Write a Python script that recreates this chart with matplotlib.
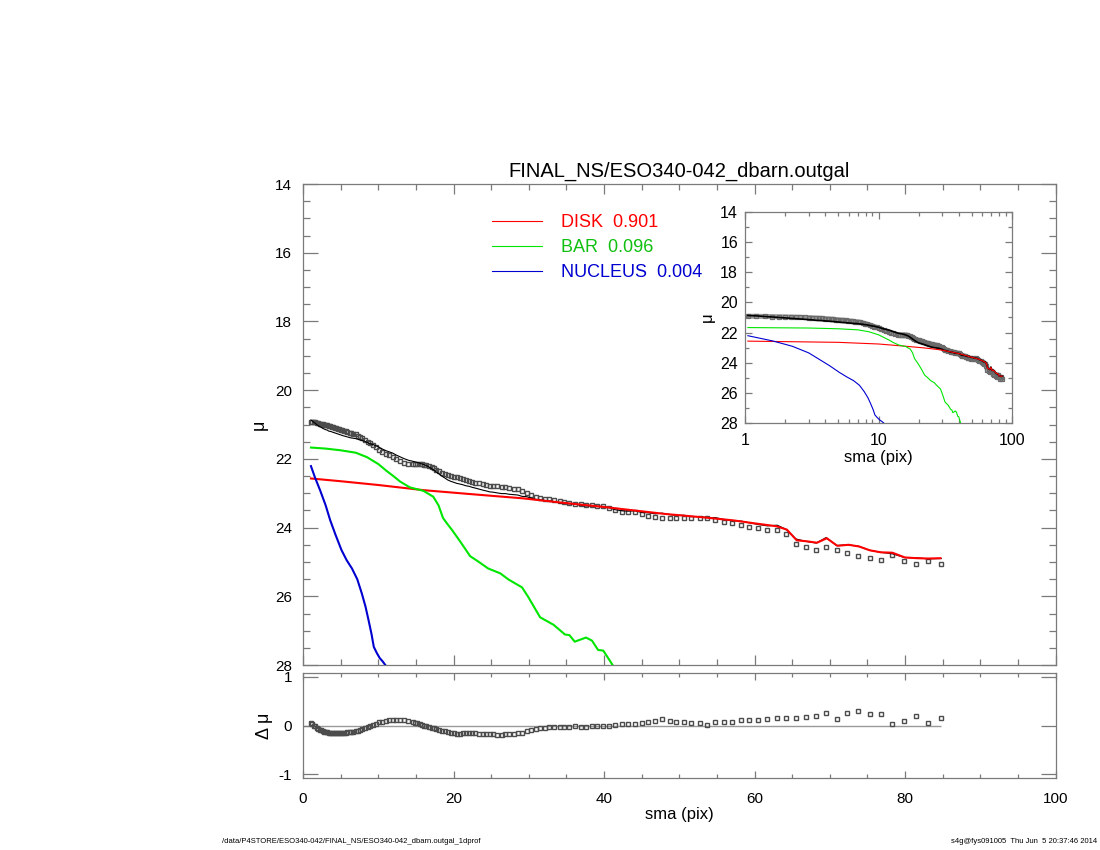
import matplotlib
matplotlib.use("Agg")
import matplotlib.pyplot as plt
from matplotlib.lines import Line2D
from matplotlib.ticker import MultipleLocator, FixedLocator
import numpy as np

plt.rcParams["font.family"] = ["Liberation Sans", "DejaVu Sans"]
plt.rcParams["axes.unicode_minus"] = False

# observed profile: sma (pix), surface brightness mu, residual (obs - model)
sma = [
    1.05, 1.2, 1.4, 1.6, 1.8, 2.0, 2.2, 2.4, 2.6, 2.8,
    3.0, 3.2, 3.4, 3.6, 3.8, 4.0, 4.2, 4.4, 4.6, 4.8,
    5.0, 5.2, 5.4, 5.7, 5.9, 6.2, 6.4, 6.7, 7.0, 7.3,
    7.6, 7.9, 8.2, 8.6, 8.9, 9.3, 9.7, 10.1, 10.5, 11.0,
    11.4, 11.9, 12.4, 12.9, 13.4, 14.0, 14.6, 14.9, 15.1, 15.5,
    15.8, 16.1, 16.4, 16.7, 17.1, 17.4, 17.7, 18.1, 18.5, 18.8,
    19.2, 19.6, 20.0, 20.4, 20.8, 21.2, 21.6, 22.1, 22.5, 22.9,
    23.4, 23.9, 24.3, 24.8, 25.3, 25.8, 26.4, 26.9, 27.4, 28.0,
    28.5, 29.1, 29.7, 30.3, 30.9, 31.5, 32.1, 32.7, 33.4, 34.1,
    34.7, 35.4, 36.1, 36.9, 37.6, 38.4, 39.1, 39.9, 40.7, 41.5,
    42.4, 43.2, 44.1, 45.0, 45.9, 46.8, 47.7, 48.7, 49.6, 50.6,
    51.6, 52.7, 53.7, 54.8, 55.9, 57.0, 58.2, 59.3, 60.5, 61.7,
    63.0, 64.2, 65.5, 66.8, 68.2, 69.5, 70.9, 72.3, 73.8, 75.3,
    76.8, 78.3, 79.9, 81.5, 83.1, 84.8,
]
mu_obs = [
    20.92, 20.92, 20.93, 20.94, 20.95, 20.96, 20.97, 20.98, 20.99, 21.00,
    21.01, 21.02, 21.04, 21.05, 21.06, 21.08, 21.09, 21.11, 21.12, 21.14,
    21.15, 21.17, 21.18, 21.20, 21.22, 21.24, 21.25, 21.27, 21.29, 21.32,
    21.36, 21.40, 21.44, 21.50, 21.55, 21.60, 21.66, 21.73, 21.79, 21.86,
    21.90, 21.95, 22.01, 22.06, 22.11, 22.14, 22.15, 22.15, 22.15, 22.15,
    22.16, 22.17, 22.18, 22.20, 22.24, 22.27, 22.31, 22.36, 22.40, 22.43,
    22.47, 22.50, 22.52, 22.54, 22.56, 22.59, 22.62, 22.65, 22.67, 22.69,
    22.71, 22.74, 22.76, 22.78, 22.79, 22.80, 22.82, 22.83, 22.85, 22.87,
    22.89, 22.94, 22.98, 23.04, 23.10, 23.13, 23.16, 23.18, 23.21, 23.24,
    23.26, 23.28, 23.30, 23.32, 23.34, 23.35, 23.37, 23.37, 23.42, 23.49,
    23.54, 23.55, 23.55, 23.61, 23.65, 23.70, 23.71, 23.71, 23.73, 23.71,
    23.73, 23.73, 23.72, 23.78, 23.83, 23.87, 23.92, 23.97, 24.02, 24.08,
    24.08, 24.20, 24.48, 24.57, 24.65, 24.55, 24.65, 24.75, 24.83, 24.89,
    24.95, 24.80, 24.96, 25.07, 24.96, 25.06,
]
dmu = [
    0.05, 0.03, 0.00, -0.02, -0.05, -0.07, -0.09, -0.10, -0.12, -0.13,
    -0.14, -0.14, -0.15, -0.15, -0.15, -0.15, -0.15, -0.15, -0.15, -0.15,
    -0.15, -0.15, -0.15, -0.15, -0.14, -0.14, -0.14, -0.13, -0.12, -0.11,
    -0.09, -0.07, -0.05, -0.03, -0.01, 0.02, 0.04, 0.07, 0.08, 0.10,
    0.11, 0.12, 0.12, 0.12, 0.12, 0.10, 0.08, 0.06, 0.05, 0.03,
    0.01, 0.00, -0.02, -0.03, -0.05, -0.06, -0.07, -0.09, -0.11, -0.12,
    -0.14, -0.15, -0.16, -0.17, -0.17, -0.16, -0.16, -0.15, -0.16, -0.16,
    -0.17, -0.17, -0.17, -0.18, -0.18, -0.19, -0.19, -0.18, -0.18, -0.17,
    -0.16, -0.15, -0.12, -0.10, -0.08, -0.06, -0.05, -0.04, -0.04, -0.04,
    -0.03, -0.03, -0.01, -0.03, -0.03, -0.02, -0.01, -0.02, 0.00, 0.01,
    0.03, 0.03, 0.04, 0.05, 0.08, 0.10, 0.13, 0.09, 0.08, 0.07,
    0.05, 0.05, 0.01, 0.07, 0.07, 0.07, 0.11, 0.11, 0.11, 0.13,
    0.15, 0.15, 0.15, 0.17, 0.20, 0.26, 0.13, 0.25, 0.29, 0.23,
    0.23, 0.04, 0.09, 0.19, 0.05, 0.16,
]

# model components
disk_sma = [1.05, 5.0, 10.0, 16.0, 22.0, 29.3, 34.2, 40.0, 44.0, 48.0,
            53.6, 57.2, 59.8, 62.9, 64.3, 65.6, 67.0, 68.3, 69.6, 71.0,
            72.5, 73.9, 75.3, 76.8, 78.3, 80.0, 81.6, 83.1, 84.7]
disk_mu = [22.57, 22.65, 22.76, 22.91, 23.02, 23.15, 23.27, 23.40, 23.50, 23.60,
           23.71, 23.79, 23.87, 23.96, 24.06, 24.37, 24.40, 24.44, 24.31, 24.53,
           24.50, 24.55, 24.66, 24.72, 24.73, 24.87, 24.89, 24.90, 24.89]
bar_sma = [1.05, 3.0, 5.0, 7.0, 8.5, 10.0, 11.1, 12.0, 12.9, 14.2,
           16.0, 17.3, 18.0, 18.6, 19.2, 19.8, 20.9, 22.2, 23.3, 24.6,
           26.2, 27.3, 29.1, 29.9, 31.5, 33.3, 34.8, 35.4, 36.1, 37.6,
           38.4, 39.2, 39.9, 41.2]
bar_mu = [21.67, 21.70, 21.75, 21.82, 21.95, 22.15, 22.35, 22.50, 22.66, 22.83,
          22.93, 23.10, 23.35, 23.72, 23.90, 24.07, 24.41, 24.83, 24.99, 25.19,
          25.33, 25.51, 25.74, 26.01, 26.61, 26.83, 27.11, 27.13, 27.32, 27.20,
          27.29, 27.56, 27.58, 28.02]
nuc_sma = [1.05, 1.6, 2.26, 3.0, 3.6, 4.3, 5.1, 5.8, 6.5, 7.2,
           7.8, 8.3, 8.7, 9.1, 9.4, 9.8, 10.2, 10.6, 11.0]
nuc_mu = [22.21, 22.55, 22.91, 23.35, 23.78, 24.20, 24.65, 24.95, 25.19, 25.50,
          25.91, 26.30, 26.69, 27.10, 27.47, 27.65, 27.80, 27.90, 28.02]

labels = ["DISK  0.901", "BAR  0.096", "NUCLEUS  0.004"]

RED = "#ff0000"
GREEN = "#00e600"
BLUE = "#0000d0"
FRAME = "#7a7a7a"
SQ = dict(ls="none", marker="s", ms=3.3, mfc="none", mec="#4c4c4c", mew=1.0)

sma = np.array(sma)
mu_obs = np.array(mu_obs)
dmu = np.array(dmu)
mu_model = mu_obs - dmu

fig = plt.figure(figsize=(11, 8.5), dpi=100)
ax = fig.add_axes([0.2755, 0.2176, 0.6841, 0.5659])
axr = fig.add_axes([0.2755, 0.0847, 0.6841, 0.1235])
axi = fig.add_axes([0.6773, 0.5024, 0.2427, 0.2482])


def frame(a, size=11):
    for s in a.spines.values():
        s.set_color(FRAME)
        s.set_linewidth(0.9)
    a.tick_params(which="both", direction="in", top=True, right=True,
                  color=FRAME, labelcolor="black", labelsize=size, width=0.9)


# main panel
ax.plot(sma, mu_obs, **SQ, zorder=2)
ax.plot(sma, mu_model, color="black", lw=0.8, zorder=3)
ax.plot(disk_sma, disk_mu, color=RED, lw=1.5, zorder=4)
ax.plot(bar_sma, bar_mu, color=GREEN, lw=1.5, zorder=4)
ax.plot(nuc_sma, nuc_mu, color=BLUE, lw=1.5, zorder=4)
ax.set_xlim(0, 100)
ax.set_ylim(28, 14)
frame(ax)
ax.xaxis.set_major_locator(MultipleLocator(20))
ax.xaxis.set_minor_locator(MultipleLocator(5))
ax.yaxis.set_major_locator(MultipleLocator(2))
ax.yaxis.set_minor_locator(MultipleLocator(0.5))
ax.tick_params(axis="x", which="major", length=7)
ax.tick_params(axis="x", which="minor", length=4)
ax.tick_params(axis="y", which="major", length=11)
ax.tick_params(axis="y", which="minor", length=5)
ax.tick_params(axis="y", pad=8)
ax.set_xticklabels([])
ax.set_ylabel("μ", fontsize=13, labelpad=5)
ax.set_title("FINAL_NS/ESO340-042_dbarn.outgal", fontsize=14.5, pad=5)

handles = [Line2D([], [], color=c, lw=0.8) for c in (RED, GREEN, BLUE)]
ax.legend(handles, labels, loc="upper left", bbox_to_anchor=(0.251, 0.938),
          frameon=False, fontsize=13, handlelength=2.8, handletextpad=1.05,
          labelspacing=0.45, borderpad=0, borderaxespad=0,
          labelcolor=[RED, "#10c010", BLUE])

# residual panel
axr.hlines(0, 0, sma[-1], color="#9a9a9a", lw=1.0, zorder=1)
axr.plot(sma, dmu, **SQ, zorder=2)
axr.set_xlim(0, 100)
axr.set_ylim(-1.08, 1.08)
frame(axr)
axr.xaxis.set_major_locator(MultipleLocator(20))
axr.xaxis.set_minor_locator(MultipleLocator(5))
axr.yaxis.set_major_locator(FixedLocator([-1, 0, 1]))
axr.tick_params(axis="x", which="major", length=5, pad=10)
axr.tick_params(axis="x", which="minor", length=3)
axr.tick_params(axis="y", which="major", length=11, pad=8)
axr.set_xlabel("sma (pix)", fontsize=12, labelpad=1)
axr.set_ylabel("Δ μ", fontsize=13, labelpad=4)

# inset, log scale
axi.plot(sma, mu_obs, color="#9a9a9a", lw=3.6, solid_capstyle="round", zorder=1)
axi.plot(sma, mu_obs, ls="none", marker="s", ms=3.4, mfc="none",
         mec="#6a6a6a", mew=0.9, zorder=2)
axi.plot(sma, mu_model, color="black", lw=1.2, zorder=3)
axi.plot(disk_sma, disk_mu, color=RED, lw=0.8, zorder=4)
axi.plot(bar_sma, bar_mu, color=GREEN, lw=0.8, zorder=4)
axi.plot(nuc_sma, nuc_mu, color=BLUE, lw=0.8, zorder=4)
axi.set_xscale("log")
axi.set_xlim(1, 100)
axi.set_ylim(28, 14)
frame(axi, 11.5)
axi.xaxis.set_major_locator(FixedLocator([1, 10, 100]))
axi.set_xticklabels(["1", "10", "100"])
axi.yaxis.set_major_locator(MultipleLocator(2))
axi.yaxis.set_minor_locator(MultipleLocator(1))
axi.tick_params(axis="both", which="major", length=5)
axi.tick_params(axis="x", which="major", pad=7)
axi.tick_params(axis="y", which="major", pad=5)
axi.tick_params(axis="both", which="minor", length=3)
axi.set_xlabel("sma (pix)", fontsize=12, labelpad=2)
axi.set_ylabel("μ", fontsize=12, labelpad=4)

fig.text(0.202, 0.006, "/data/P4STORE/ESO340-042/FINAL_NS/ESO340-042_dbarn.outgal_1dprof",
         fontsize=5.5, ha="left", va="bottom")
fig.text(0.997, 0.006, "s4g@fys091005  Thu Jun  5 20:37:46 2014",
         fontsize=5.5, ha="right", va="bottom")

fig.savefig("out.png", dpi=100)
